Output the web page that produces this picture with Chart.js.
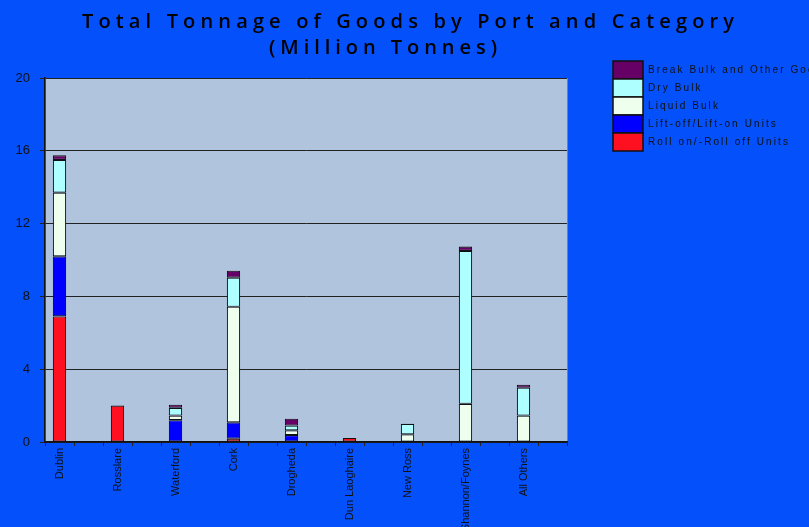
<!DOCTYPE html>
<html>
<head>
<meta charset="utf-8">
<script src="https://cdn.jsdelivr.net/npm/chart.js@4.4.0/dist/chart.umd.min.js"></script>
<style>
  html, body { margin: 0; padding: 0; background: #0450FA; }
  #wrap { width: 809px; height: 527px; }
</style>
</head>
<body>
<div id="wrap"><canvas id="chartCanva" width="809" height="527"></canvas></div>
<script>
// data (million tonnes)
var ports = ['Dublin', 'Rosslare', 'Waterford', 'Cork', 'Drogheda', 'Dun Laoghaire', 'New Ross', 'Shannon/Foynes', 'All Others'];
var rollOn = [6.9, 2.0, 0, 0.18, 0, 0.22, 0, 0, 0];
var liftOn = [3.3, 0, 1.2, 0.9, 0.38, 0, 0, 0, 0];
var liquidBulk = [3.5, 0, 0.25, 6.35, 0.26, 0, 0.42, 2.1, 1.45];
var dryBulk = [1.8, 0, 0.43, 1.6, 0.26, 0, 0.58, 8.4, 1.53];
var breakBulk = [0.25, 0, 0.17, 0.38, 0.38, 0, 0, 0.24, 0.17];
var yTicks = [0, 4, 8, 12, 16, 20];

var titleLine1 = 'Total Tonnage of Goods by Port and Category';
var titleLine2 = '(Million Tonnes)';

// the original sheet has an empty column between every port
function spread(arr) {
    return arr.flatMap(function (v) { return [v ? v : null, null]; });
}
var labels = ports.flatMap(function (p) { return [p, '']; });

function ds(name, values, color) {
    return {
        label: name,
        data: spread(values),
        backgroundColor: color,
        borderColor: '#111',
        borderWidth: 1.1,
        borderSkipped: false,
        categoryPercentage: 0.46,
        barPercentage: 1
    };
}

const data = {
    labels: labels,
    datasets: [
        ds('Roll on/-Roll off Units', rollOn, '#FF1020'),
        ds('Lift-off/Lift-on Units', liftOn, '#0000FF'),
        ds('Liquid Bulk', liquidBulk, '#EEFFEE'),
        ds('Dry Bulk', dryBulk, '#AEFFFF'),
        ds('Break Bulk and Other Goods', breakBulk, '#660066')
    ]
};

function spaced(ctx, text, x, y, width) {
    ctx.letterSpacing = '0px';
    var w0 = ctx.measureText(text).width;
    var sp = (width - w0) / (text.length - 1);
    ctx.letterSpacing = sp + 'px';
    ctx.fillText(text, x, y);
    ctx.letterSpacing = '0px';
}

const decor = {
    id: 'decor',
    beforeDraw: function (chart) {
        var ctx = chart.ctx, a = chart.chartArea;
        ctx.save();
        ctx.fillStyle = '#0450FA';
        ctx.fillRect(0, 0, chart.width, chart.height);
        ctx.fillStyle = '#B0C4DE';
        ctx.fillRect(a.left, a.top, a.right - a.left, a.bottom - a.top);
        ctx.strokeStyle = '#808080';
        ctx.lineWidth = 1;
        ctx.strokeRect(a.left + 0.5, a.top + 0.5, a.right - a.left, a.bottom - a.top);
        ctx.restore();
    },
    afterDraw: function (chart) {
        var ctx = chart.ctx;
        ctx.save();
        ctx.fillStyle = '#000';
        ctx.textAlign = 'left';
        ctx.textBaseline = 'alphabetic';
        ctx.font = '600 20px "Open Sans"';
        spaced(ctx, titleLine1, 82, 28, 652);
        spaced(ctx, titleLine2, 269, 54, 228);

        // legend, top entry is the last series
        ctx.font = '10px "Liberation Sans"';
        ctx.textBaseline = 'middle';
        var sets = chart.data.datasets.slice().reverse();
        sets.forEach(function (d, i) {
            var y = 61 + i * 18;
            ctx.fillStyle = d.backgroundColor;
            ctx.fillRect(613, y, 30, 18);
            ctx.strokeStyle = '#111';
            ctx.lineWidth = 1.5;
            ctx.strokeRect(613, y, 30, 18);
            ctx.fillStyle = '#111';
            ctx.letterSpacing = '2.1px';
            ctx.fillText(d.label, 648, y + 9.5);
            ctx.letterSpacing = '0px';
        });
        ctx.restore();
    }
};

const config = {
    type: 'bar',
    data: data,
    options: {
        responsive: false,
        animation: false,
        layout: { padding: { top: 78, right: 242, left: 0, bottom: 0 } },
        plugins: {
            legend: { display: false },
            title: { display: false },
            tooltip: { enabled: false }
        },
        scales: {
            x: {
                stacked: true,
                afterFit: function (s) { s.height = 85; },
                grid: {
                    drawOnChartArea: false,
                    drawTicks: true,
                    tickLength: 4,
                    color: '#222',
                    offset: true
                },
                border: { display: true, color: '#111', width: 1.5 },
                ticks: {
                    autoSkip: false,
                    minRotation: 90,
                    maxRotation: 90,
                    padding: 2,
                    color: '#111',
                    font: { family: 'Liberation Sans', size: 11 }
                }
            },
            y: {
                stacked: true,
                min: 0,
                max: 20,
                afterFit: function (s) { s.width = 45; },
                afterBuildTicks: function (s) {
                    s.ticks = yTicks.map(function (v) { return { value: v }; });
                },
                grid: {
                    color: '#222',
                    lineWidth: 1,
                    tickLength: 5
                },
                border: { display: true, color: '#111', width: 1.5 },
                ticks: {
                    padding: 10,
                    color: '#111',
                    font: { family: 'Liberation Sans', size: 13 }
                }
            }
        }
    },
    plugins: [decor]
};

var myChart = new Chart(document.getElementById('chartCanva'), config);
</script>
</body>
</html>
